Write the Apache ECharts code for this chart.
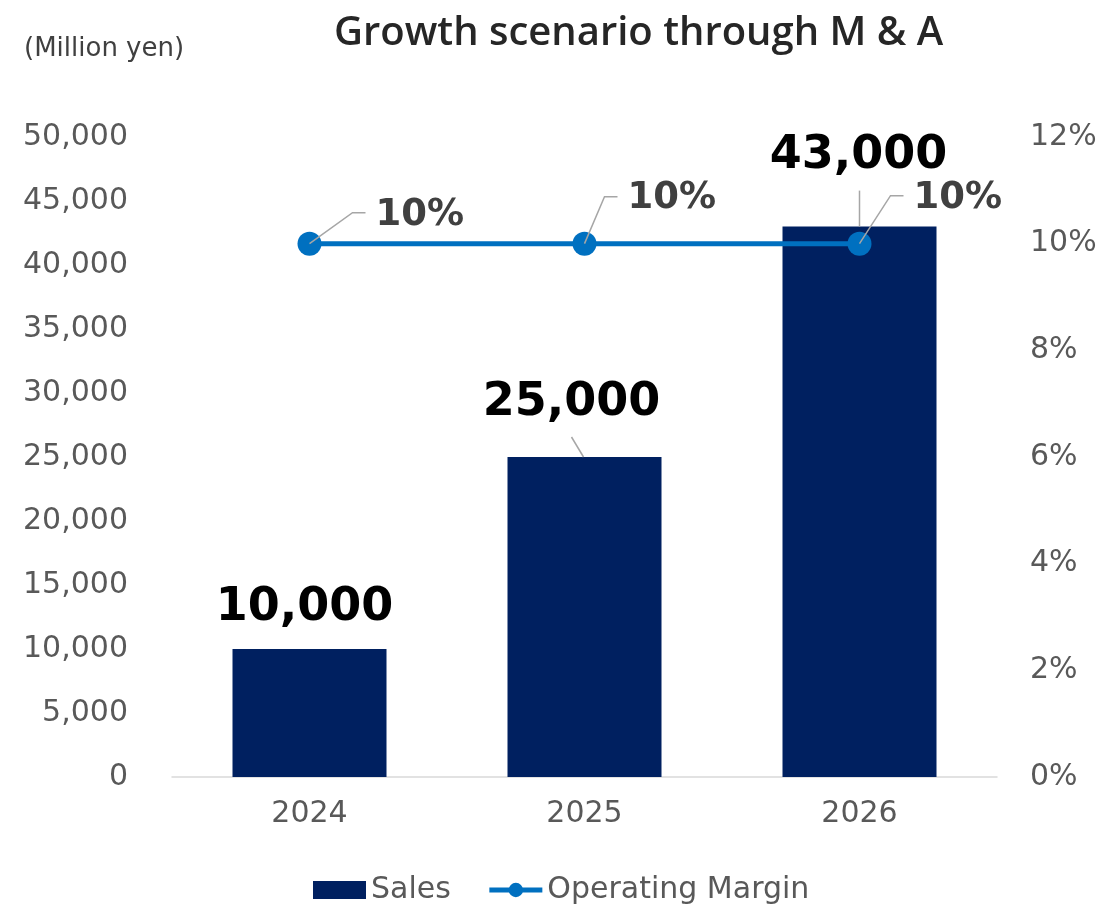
<!DOCTYPE html>
<html>
<head>
<meta charset="utf-8">
<script src="https://cdn.jsdelivr.net/npm/echarts@6/dist/echarts.min.js"></script>
<style>
  html, body { margin: 0; padding: 0; background: #ffffff; }
  #chart { width: 1106px; height: 904px; }
</style>
</head>
<body>
<div id="chart"></div>
<script>
// ---- data ----
const years = ['2024', '2025', '2026'];
const sales = [10000, 25000, 43000];          // Million yen
const operatingMargin = [10, 10, 10];          // %
const salesTicks = { min: 0, max: 50000, interval: 5000 };
const marginTicks = { min: 0, max: 12, interval: 2 };

// ---- label placement (pixel offsets from the data anchor) ----
const barLabelDist = [18, 31, 48];
const barLabelDx = [-5, -13, -1];
const lineLabelOffset = [[54, -28], [31, -45], [42, -45]];
const barLeaders = [null, [[-1, 0], [-13, -20]], [[0, 0], [0, -36]]];
const lineLeaders = [
  [[0, 0], [43, -31], [56, -31]],
  [[0, 0], [20, -47], [33, -47]],
  [[0, 0], [31, -48], [44, -48]]
];

const FONT = 'DejaVu Sans';
const fmt = v => v.toLocaleString('en-US');

const chart = echarts.init(document.getElementById('chart'), null, { renderer: 'canvas' });

function leaderRenderer(leaders) {
  return function (params, api) {
    const i = api.value(0);
    const pts = leaders[i];
    if (!pts) return null;
    const p = api.coord([i, api.value(1)]);
    return {
      type: 'polyline',
      shape: { points: pts.map(d => [p[0] + d[0], p[1] + d[1]]) },
      style: { stroke: '#a6a6a6', lineWidth: 1.5, fill: null },
      silent: true
    };
  };
}

const option = {
  backgroundColor: '#ffffff',
  animation: false,
  title: [
    {
      text: 'Growth scenario through M & A',
      left: 329, top: 9,
      textStyle: { fontFamily: 'Open Sans', fontSize: 40, fontWeight: 600, color: '#262626' }
    },
    {
      text: '(Million yen)',
      left: 19, top: 31,
      textStyle: { fontFamily: FONT, fontSize: 26, fontWeight: 'normal', color: '#404040' }
    }
  ],
  legend: {
    left: 308, top: 870,
    itemWidth: 53, itemHeight: 18, itemGap: 36,
    textStyle: { fontFamily: FONT, fontSize: 30, color: '#595959' },
    data: [
      { name: 'Sales', icon: 'rect' },
      { name: 'Operating Margin', lineStyle: { width: 5 } }
    ]
  },
  grid: { left: 172, right: 109, top: 137, bottom: 127, containLabel: false },
  xAxis: {
    type: 'category',
    data: years,
    axisTick: { show: false },
    axisLine: { lineStyle: { color: '#d9d9d9', width: 1.5 } },
    axisLabel: { fontFamily: FONT, fontSize: 30, color: '#595959', margin: 22 }
  },
  yAxis: [
    {
      type: 'value', min: salesTicks.min, max: salesTicks.max, interval: salesTicks.interval,
      splitLine: { show: false },
      axisLabel: { fontFamily: FONT, fontSize: 30, color: '#595959', margin: 44, formatter: v => fmt(v) }
    },
    {
      type: 'value', min: marginTicks.min, max: marginTicks.max, interval: marginTicks.interval,
      splitLine: { show: false },
      axisLabel: { fontFamily: FONT, fontSize: 30, color: '#595959', margin: 33, formatter: '{value}%' }
    }
  ],
  series: [
    {
      name: 'Sales', type: 'bar', yAxisIndex: 0,
      barCategoryGap: '44%',
      itemStyle: { color: '#002060' },
      data: sales.map((v, i) => ({
        value: v,
        label: { distance: barLabelDist[i], offset: [barLabelDx[i], 0] }
      })),
      label: {
        show: true, position: 'top',
        fontFamily: FONT, fontSize: 46, fontWeight: 'bold', color: '#000000',
        formatter: p => fmt(p.value)
      },
      z: 2
    },
    {
      name: 'Operating Margin', type: 'line', yAxisIndex: 1,
      symbol: 'circle', symbolSize: 24,
      lineStyle: { color: '#0070C0', width: 5 },
      itemStyle: { color: '#0070C0' },
      data: operatingMargin.map((v, i) => ({
        value: v,
        label: { offset: lineLabelOffset[i] }
      })),
      label: {
        show: true, position: 'right', distance: 0,
        fontFamily: FONT, fontSize: 37, fontWeight: 'bold', color: '#404040',
        formatter: p => p.value + '%'
      },
      z: 4
    },
    {
      type: 'custom', yAxisIndex: 0, silent: true, z: 3,
      data: sales.map((v, i) => [i, v]),
      renderItem: leaderRenderer(barLeaders)
    },
    {
      type: 'custom', yAxisIndex: 1, silent: true, z: 5,
      data: operatingMargin.map((v, i) => [i, v]),
      renderItem: leaderRenderer(lineLeaders)
    }
  ]
};

chart.setOption(option);
</script>
</body>
</html>
